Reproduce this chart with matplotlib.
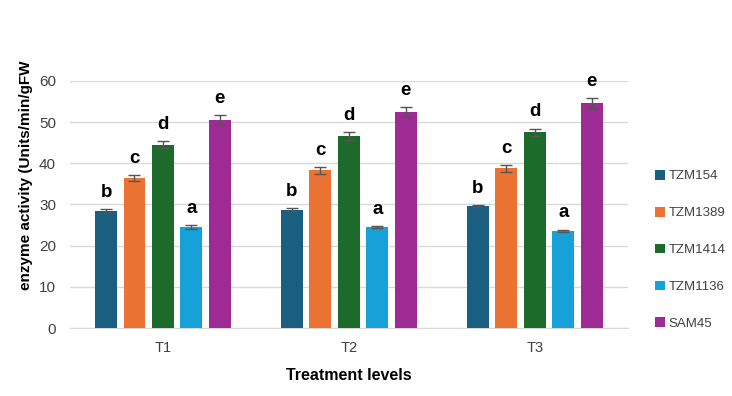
import numpy as np
import matplotlib.pyplot as plt

plt.rcParams["font.family"] = ["Liberation Sans", "DejaVu Sans"]

treatments = ["T1", "T2", "T3"]
genotypes = ["TZM154", "TZM1389", "TZM1414", "TZM1136", "SAM45"]
colors = ["#1a5e80", "#ea7233", "#1c6b2a", "#16a1d8", "#9e2a93"]

tzm154 = [28.4, 28.7, 29.6]
tzm1389 = [36.4, 38.3, 38.8]
tzm1414 = [44.5, 46.6, 47.5]
tzm1136 = [24.5, 24.5, 23.6]
sam45 = [50.4, 52.4, 54.6]

err154 = [0.4, 0.4, 0.3]
err1389 = [0.8, 0.8, 0.8]
err1414 = [0.9, 0.9, 0.9]
err1136 = [0.4, 0.3, 0.3]
err45 = [1.2, 1.2, 1.2]

letters = ["b", "c", "d", "a", "e"]

values = [tzm154, tzm1389, tzm1414, tzm1136, sam45]
errors = [err154, err1389, err1414, err1136, err45]

fig = plt.figure(figsize=(7.32, 3.96), dpi=100)
ax = fig.add_axes([0.0956, 0.1717, 0.762, 0.624])

x = np.arange(len(treatments))
pitch = 0.153
width = 0.118
for i, (name, vals, errs, col) in enumerate(zip(genotypes, values, errors, colors)):
    pos = x + (i - 2) * pitch
    ax.bar(pos, vals, width, color=col, label=name, zorder=3,
           yerr=errs, error_kw=dict(ecolor="#555555", elinewidth=1, capsize=4, capthick=1))
    for p, v, e in zip(pos, vals, errs):
        ax.text(p, v + e + 2.0, letters[i], ha="center", va="bottom",
                fontsize=13.5, fontweight="bold", color="black")

ax.set_xlim(-0.5, 2.5)
ax.set_ylim(0, 60)
ax.set_yticks(range(0, 61, 10))
ax.set_xticks(x)
ax.set_xticklabels(treatments)
ax.tick_params(axis="y", length=0, labelsize=11, colors="#404040", pad=10)
ax.tick_params(axis="x", length=0, labelsize=10.5, colors="#404040", pad=9)
ax.yaxis.grid(True, color="#d9d9d9", linewidth=1, zorder=0)
for s in ["top", "right", "left"]:
    ax.spines[s].set_visible(False)
ax.spines["bottom"].set_color("#d9d9d9")

ax.set_xlabel("Treatment levels", fontsize=11.5, fontweight="bold", labelpad=10)
ax.set_ylabel("enzyme activity (Units/min/gFW", fontsize=11, fontweight="bold")
ax.yaxis.set_label_coords(-0.066, 0.62)

ax.legend(loc="center left", bbox_to_anchor=(1.027, 0.316), frameon=False,
          handlelength=0.75, handleheight=0.75, handletextpad=0.3,
          labelspacing=1.85, fontsize=9.5, labelcolor="#404040")

fig.savefig("out.png", dpi=100, facecolor="white")
